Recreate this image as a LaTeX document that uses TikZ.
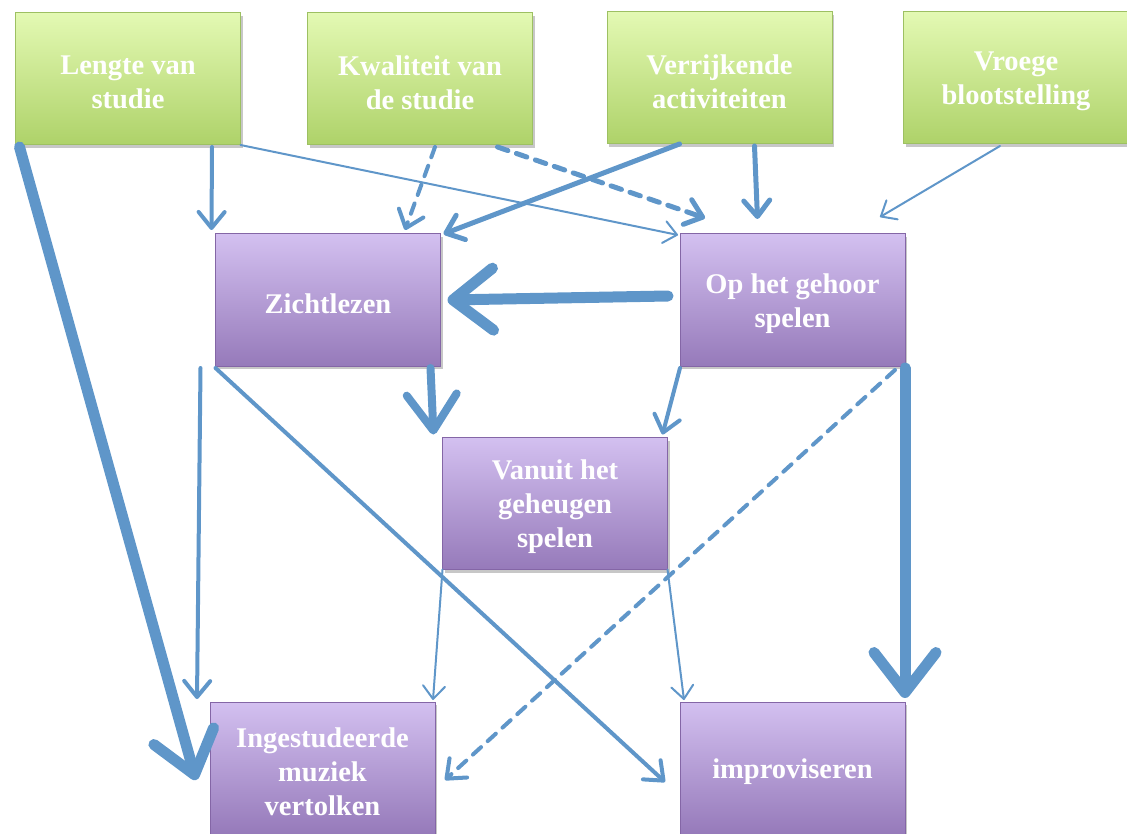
\documentclass[tikz,border=0pt]{standalone}
\usepackage{fontspec}
\setmainfont{Liberation Serif}
\usetikzlibrary{arrows.meta,calc,shadows}
\definecolor{arrowc}{HTML}{5F96C9}
\definecolor{gtop}{HTML}{E3F9B3}
\definecolor{gbot}{HTML}{AED269}
\definecolor{gborder}{HTML}{9DC062}
\definecolor{ptop}{HTML}{D3C0F0}
\definecolor{pbot}{HTML}{967ABA}
\definecolor{pborder}{HTML}{8466A6}
\begin{document}
\begin{tikzpicture}[x=1pt,y=-1pt,
  boxtext/.style={text=white, align=center, inner sep=0pt, yshift=-3.5pt,
    font=\bfseries\fontsize{28.5}{34}\selectfont},
  box/.style={rectangle, minimum width=225pt, minimum height=132pt, inner sep=0pt, outer sep=0pt,
    line width=1pt, label={[boxtext]center:{#1}},
    drop shadow={shadow xshift=2pt, shadow yshift=-3pt, opacity=0.22, fill=black}},
  gbox/.style={box={#1}, draw=gborder, top color=gtop, bottom color=gbot},
  pbox/.style={box={#1}, draw=pborder, top color=ptop, bottom color=pbot},
  conn/.style={draw=arrowc, line cap=round, line join=round},
  thinarr/.style={conn, line width=2pt, -{Straight Barb[round,length=13pt,width=22pt]}},
  medarr/.style={conn, line width=4pt, -{Straight Barb[round,length=16pt,width=26pt]}},
  bigarr/.style={conn, line width=8pt, -{Straight Barb[round,length=36pt,width=50pt]}},
  hugearr/.style={conn, line width=11pt, -{Straight Barb[round,length=40pt,width=62pt]}},
  dsh/.style={dash pattern=on 11pt off 9pt}
]
\useasboundingbox (0,0) rectangle (1127,834);
\clip (0,0) rectangle (1127,834);

\node[gbox={Lengte van\\studie}] (lengte) at (128,79) {};
\node[gbox={Kwaliteit van\\de studie}] (kwal) at (420,79) {};
\node[gbox={Verrijkende\\activiteiten}] (verr) at (719.5,78) {};
\node[gbox={Vroege\\blootstelling}] (vroege) at (1016,78) {};

\node[pbox={Zichtlezen}] (zicht) at (328,300) {};
\node[pbox={Op het gehoor\\spelen}] (gehoor) at (792.5,300) {};
\node[pbox={Vanuit het\\geheugen\\spelen}] (vanuit) at (555,503.5) {};
\node[pbox={Ingestudeerde\\muziek\\vertolken}] (ingest) at (322.5,768) {};
\node[pbox={improviseren}] (improv) at (792.5,768) {};

% from top row
\draw[hugearr] ($(lengte.south west)+(4,2)$) -- ($(ingest.west)+(-14,12)$);
\draw[medarr] ($(lengte.south)+(84,2)$) -- ($(zicht.north west)+(-4,-4)$);
\draw[thinarr] ($(lengte.south east)+(0,0)$) -- ($(gehoor.north west)+(-2,1)$);
\draw[medarr,dsh] ($(kwal.south)+(15,2)$) -- ($(zicht.north)+(77,-4)$);
\draw[medarr,line width=5pt,dsh] ($(kwal.south east)+(-35,2)$) -- ($(gehoor.north west)+(25,-16)$);
\draw[medarr,line width=5pt] ($(verr.south)+(-40,0)$) -- ($(zicht.north east)+(3,0)$);
\draw[medarr,line width=5pt] ($(verr.south)+(35,2)$) -- ($(gehoor.north)+(-35,-15)$);
\draw[thinarr] ($(vroege.south)+(-16,2)$) -- ($(gehoor.north east)+(-25,-17)$);

% middle
\draw[hugearr] ($(gehoor.west)+(-12,-4)$) -- ($(zicht.east)+(7,0)$);
\draw[bigarr] ($(zicht.south east)+(-10,2)$) -- ($(vanuit.north west)+(-9,-3)$);
\draw[medarr] ($(gehoor.south west)+(0,2)$) -- ($(vanuit.north east)+(-5,-3)$);

% to bottom row
\draw[medarr] ($(zicht.south west)+(-15,2)$) -- ($(ingest.north west)+(-13,-3)$);
\draw[medarr] ($(zicht.south west)+(0,2)$) -- ($(improv.west)+(-15,14)$);
\draw[medarr,dsh] ($(gehoor.south east)+(-10,4)$) -- ($(ingest.east)+(10,12)$);
\draw[hugearr] ($(gehoor.south east)+(0,2)$) -- ($(improv.north east)+(0,-4)$);
\draw[thinarr] ($(vanuit.south west)+(0,0)$) -- ($(ingest.north east)+(-2,-2)$);
\draw[thinarr] ($(vanuit.south east)+(0,0)$) -- ($(improv.north west)+(4,-2)$);
\end{tikzpicture}
\end{document}
